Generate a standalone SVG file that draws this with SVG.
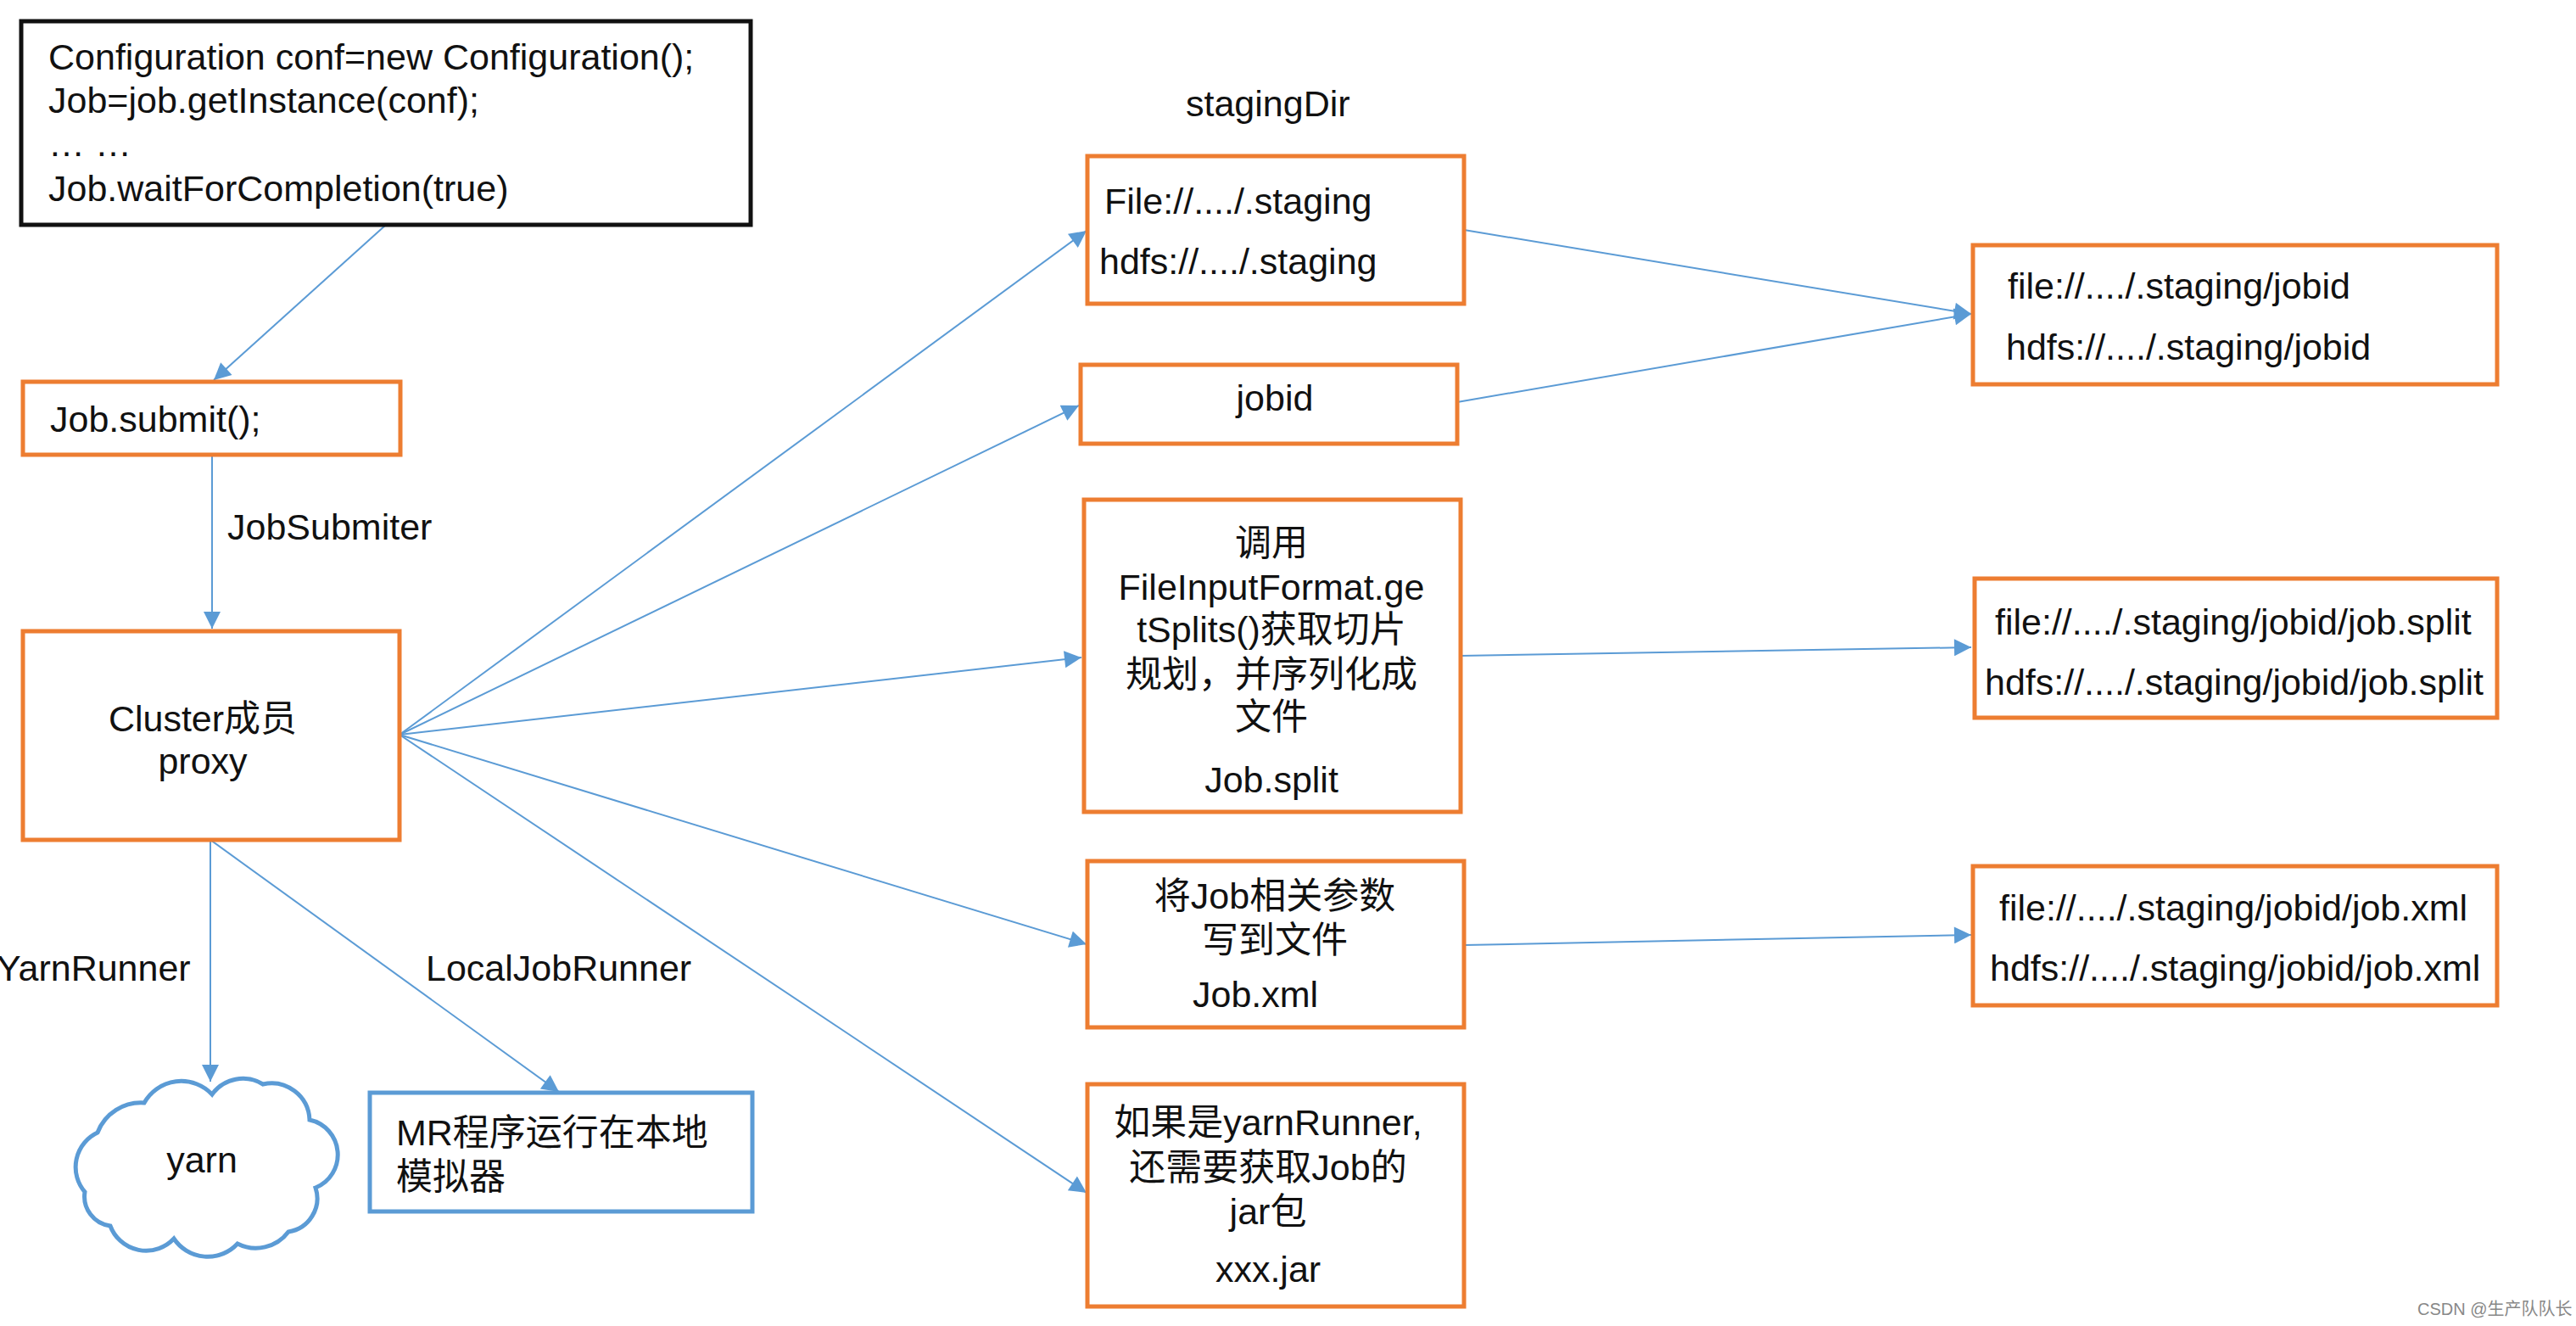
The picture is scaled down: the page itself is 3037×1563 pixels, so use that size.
<svg xmlns="http://www.w3.org/2000/svg" width="3037" height="1563" viewBox="0 0 3037 1563">
<style>
text{font-family:"Liberation Sans","Noto Sans CJK SC",sans-serif;font-size:43px;fill:#111}
.o{fill:#fff;stroke:#ed7d31;stroke-width:5}
.c{text-anchor:middle}
.l{stroke:#5b9bd5;stroke-width:2;fill:none;marker-end:url(#a)}
</style>
<defs><marker id="a" viewBox="0 0 10 10" refX="10" refY="5" markerWidth="22" markerHeight="20" markerUnits="userSpaceOnUse" orient="auto"><path d="M0,0L10,5L0,10z" fill="#5b9bd5"/></marker></defs>
<rect width="3037" height="1563" fill="#fff"/>
<g id="connectors">
<path class="l" d="M455,265L252,448"/>
<path class="l" d="M250,536V741"/>
<path class="l" d="M248,990V1275"/>
<path class="l" d="M248,990L659,1287"/>
<path class="l" d="M471,866L1281,272"/>
<path class="l" d="M471,866L1272,478"/>
<path class="l" d="M471,866L1275,775"/>
<path class="l" d="M471,866L1281,1113"/>
<path class="l" d="M471,866L1281,1406"/>
<path class="l" d="M1726,271L2324,370"/>
<path class="l" d="M1718,474L2324,370"/>
<path class="l" d="M1722,773L2324,763"/>
<path class="l" d="M1726,1114L2324,1102"/>
</g>
<text x="268" y="636">JobSubmiter</text>
<text x="-4" y="1156">YarnRunner</text>
<text x="502" y="1156">LocalJobRunner</text>
<text x="1398" y="137">stagingDir</text>
<g id="code"><rect x="25" y="25" width="860" height="240" fill="#fff" stroke="#111" stroke-width="5"/>
<text x="57" y="82">Configuration conf=new Configuration();</text>
<text x="57" y="133">Job=job.getInstance(conf);</text>
<text x="57" y="184">… …</text>
<text x="57" y="237">Job.waitForCompletion(true)</text></g>
<g id="submit"><rect class="o" x="27" y="450" width="445" height="86"/><text x="59" y="509">Job.submit();</text></g>
<g id="cluster"><rect class="o" x="27" y="744" width="444" height="246"/><text class="c" x="239" y="862">Cluster成员</text><text class="c" x="239" y="912">proxy</text></g>
<g id="yarn"><path d="M100,1405A45,45 0 0 1 115,1335A55,55 0 0 1 170,1300A50,50 0 0 1 250,1290A45,45 0 0 1 310,1278A45,45 0 0 1 365,1320A42,42 0 0 1 372,1400A40,40 0 0 1 340,1452A48,48 0 0 1 280,1466A48,48 0 0 1 205,1460A45,45 0 0 1 130,1445A35,35 0 0 1 100,1405Z" fill="#fff" stroke="#5b9bd5" stroke-width="5"/><text class="c" x="238" y="1382">yarn</text></g>
<g id="local"><rect x="436" y="1288" width="451" height="140" fill="#fff" stroke="#5b9bd5" stroke-width="5"/><text x="467" y="1350">MR程序运行在本地</text><text x="467" y="1402">模拟器</text></g>
<g id="staging"><rect class="o" x="1282" y="184" width="444" height="174"/><text x="1302" y="252">File://..../.staging</text><text x="1296" y="323">hdfs://..../.staging</text></g>
<g id="jobid"><rect class="o" x="1274" y="430" width="444" height="93"/><text class="c" x="1503" y="484">jobid</text></g>
<g id="split"><rect class="o" x="1278" y="589" width="444" height="368"/>
<text class="c" x="1499" y="655">调用</text><text class="c" x="1499" y="707">FileInputFormat.ge</text><text class="c" x="1499" y="757">tSplits()获取切片</text><text class="c" x="1499" y="810">规划，并序列化成</text><text class="c" x="1499" y="860">文件</text><text class="c" x="1499" y="934">Job.split</text></g>
<g id="xml"><rect class="o" x="1282" y="1015" width="444" height="196"/><text class="c" x="1503" y="1071">将Job相关参数</text><text class="c" x="1503" y="1123">写到文件</text><text x="1406" y="1187">Job.xml</text></g>
<g id="jar"><rect class="o" x="1282" y="1278" width="444" height="262"/><text class="c" x="1495" y="1338">如果是yarnRunner,</text><text class="c" x="1495" y="1391">还需要获取Job的</text><text class="c" x="1495" y="1443">jar包</text><text class="c" x="1495" y="1511">xxx.jar</text></g>
<g id="r1"><rect class="o" x="2326" y="289" width="618" height="164"/><text x="2367" y="352">file://..../.staging/jobid</text><text x="2365" y="424">hdfs://..../.staging/jobid</text></g>
<g id="r2"><rect class="o" x="2328" y="682" width="616" height="164"/><text x="2352" y="748">file://..../.staging/jobid/job.split</text><text x="2340" y="819">hdfs://..../.staging/jobid/job.split</text></g>
<g id="r3"><rect class="o" x="2326" y="1021" width="618" height="164"/><text x="2357" y="1085">file://..../.staging/jobid/job.xml</text><text x="2346" y="1156">hdfs://..../.staging/jobid/job.xml</text></g>
<text x="2850" y="1550" style="font-size:20px;fill:#888">CSDN @生产队队长</text>
</svg>
